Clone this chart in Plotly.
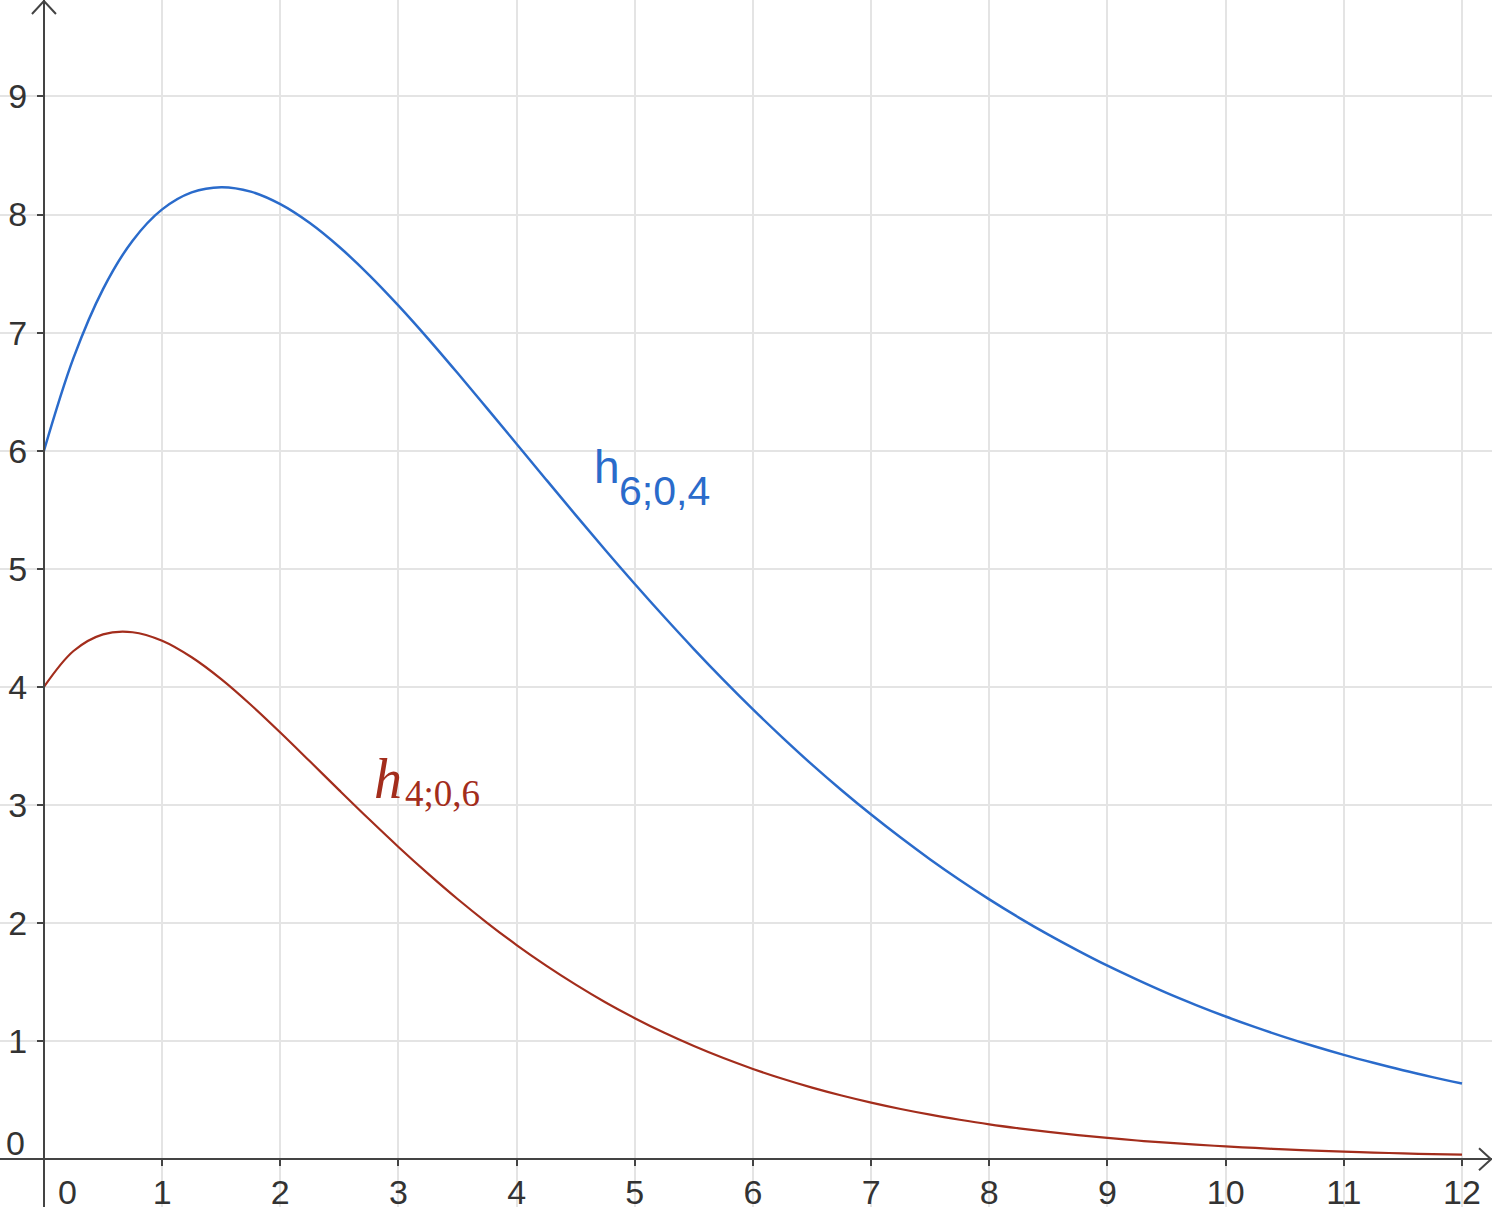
import plotly.graph_objects as go

# values (every quarter unit)
x_vals = [0, 0.25, 0.5, 0.75, 1, 1.25, 1.5, 1.75, 2, 2.25, 2.5, 2.75,
          3, 3.25, 3.5, 3.75, 4, 4.25, 4.5, 4.75, 5, 5.25, 5.5, 5.75,
          6, 6.25, 6.5, 6.75, 7, 7.25, 7.5, 7.75, 8, 8.25, 8.5, 8.75,
          9, 9.25, 9.5, 9.75, 10, 10.25, 10.5, 10.75, 11, 11.25, 11.5, 11.75, 12]

h_6_04 = [6.000, 6.786, 7.369, 7.779, 8.044, 8.188, 8.232, 8.194, 8.088, 7.928, 7.725, 7.490,
          7.229, 6.950, 6.658, 6.359, 6.057, 5.755, 5.455, 5.160, 4.872, 4.592, 4.321, 4.060,
          3.810, 3.571, 3.342, 3.125, 2.919, 2.724, 2.539, 2.365, 2.201, 2.047, 1.902, 1.767,
          1.639, 1.521, 1.409, 1.306, 1.209, 1.119, 1.035, 0.957, 0.884, 0.817, 0.754, 0.696, 0.642]

h_4_06 = [4.000, 4.304, 4.445, 4.463, 4.391, 4.251, 4.066, 3.849, 3.614, 3.370, 3.124, 2.881,
          2.645, 2.419, 2.204, 2.003, 1.814, 1.640, 1.479, 1.330, 1.195, 1.071, 0.959, 0.857,
          0.765, 0.682, 0.607, 0.540, 0.480, 0.426, 0.378, 0.335, 0.296, 0.262, 0.232, 0.205,
          0.181, 0.159, 0.141, 0.124, 0.109, 0.096, 0.084, 0.074, 0.065, 0.057, 0.050, 0.044, 0.039]

x_ticks = list(range(1, 13))
y_ticks = list(range(1, 10))

blue = "#2A6BCB"
red = "#A32D1C"
axis_col = "#444444"
grid_col = "#E4E4E4"
tick_font = dict(family="Liberation Sans", size=34, color="#333333")

W, H = 1492, 1207
x_range = [-0.372, 12.254]
y_range = [-0.404, 9.817]

fig = go.Figure()
fig.add_trace(go.Scatter(x=x_vals, y=h_6_04, mode="lines",
                         line=dict(color=blue, width=2.5, shape="spline"),
                         hoverinfo="skip"))
fig.add_trace(go.Scatter(x=x_vals, y=h_4_06, mode="lines",
                         line=dict(color=red, width=2.2, shape="spline"),
                         hoverinfo="skip"))

# axes sit at x=0 / y=0, not at the plot edges
x_pos = (0 - y_range[0]) / (y_range[1] - y_range[0])
y_pos = (0 - x_range[0]) / (x_range[1] - x_range[0])

fig.update_layout(
    width=W, height=H,
    margin=dict(l=0, r=0, t=0, b=0),
    paper_bgcolor="white", plot_bgcolor="white",
    showlegend=False,
    xaxis=dict(range=x_range, tickmode="array", tickvals=x_ticks, showgrid=True,
               gridcolor=grid_col, gridwidth=2, zeroline=False, showline=True,
               linecolor=axis_col, linewidth=2, ticks="outside", ticklen=6, tickwidth=2,
               tickcolor=axis_col, tickfont=tick_font, anchor="free", position=x_pos,
               ticklabelstandoff=-3, automargin=False, fixedrange=True),
    yaxis=dict(range=y_range, tickmode="array", tickvals=y_ticks, showgrid=True,
               gridcolor=grid_col, gridwidth=2, zeroline=False, showline=True,
               linecolor=axis_col, linewidth=2, ticks="outside", ticklen=6, tickwidth=2,
               tickcolor=axis_col, tickfont=tick_font, anchor="free", position=y_pos,
               ticklabelstandoff=3, automargin=False, fixedrange=True),
)

# arrow heads at the axis ends
fig.add_shape(type="path", xref="x", yref="paper", xsizemode="pixel", ysizemode="pixel",
              xanchor=0, yanchor=1, path="M -12,-14 L 0,-1 L 12,-14",
              line=dict(color=axis_col, width=2))
fig.add_shape(type="path", xref="paper", yref="y", xsizemode="pixel", ysizemode="pixel",
              xanchor=1, yanchor=0, path="M -13,11 L -1,0 L -13,-11",
              line=dict(color=axis_col, width=2))

# the two zero labels
fig.add_annotation(x=0, y=0, text="0", showarrow=False, xanchor="right", yanchor="middle",
                   xshift=-17, yshift=16, font=tick_font)
fig.add_annotation(x=0, y=0, text="0", showarrow=False, xanchor="center", yanchor="middle",
                   xshift=24, yshift=-33, font=tick_font)

# curve labels
fig.add_annotation(x=4.637, y=5.86, text="h", showarrow=False, xanchor="left",
                   yanchor="middle", font=dict(family="Liberation Sans", size=46, color=blue))
fig.add_annotation(x=4.85, y=5.655, text="6;0,4", showarrow=False, xanchor="left",
                   yanchor="middle", font=dict(family="Liberation Sans", size=41, color=blue))
fig.add_annotation(x=2.78, y=3.22, text="<i>h</i>", showarrow=False, xanchor="left",
                   yanchor="middle", font=dict(family="Liberation Serif", size=56, color=red))
fig.add_annotation(x=3.04, y=3.10, text="4;0,6", showarrow=False, xanchor="left",
                   yanchor="middle", font=dict(family="Liberation Serif", size=37, color=red))

fig.write_html("out.html", config={"displayModeBar": False},
               post_script="document.body.style.margin='0';document.body.style.overflow='hidden';")
